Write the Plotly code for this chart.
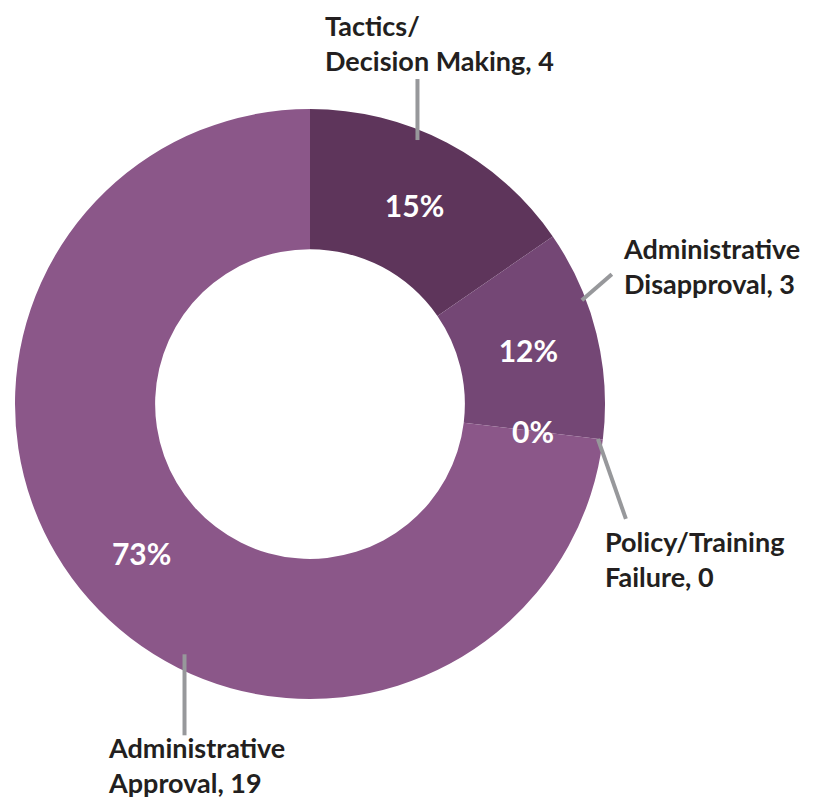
import math
import plotly.graph_objects as go

labels = ["Tactics/<br>Decision Making", "Administrative<br>Disapproval",
          "Policy/Training<br>Failure", "Administrative<br>Approval"]
values = [4, 3, 0, 19]
colors = ["#5e355b", "#744775", "#8b5789", "#8b5789"]

W, H = 827, 801
CX, CY, R = 310, 404, 295     # donut centre / radius in pixels

def paper(px, py):
    return px / W, 1 - py / H

def polar(angle, r):
    a = math.radians(angle)
    return CX + r * math.sin(a), CY - r * math.cos(a)

x0d, y1d = paper(CX - R, CY - R)
x1d, y0d = paper(CX + R, CY + R)

fig = go.Figure()
fig.add_trace(go.Pie(
    labels=labels, values=values, sort=False, direction="clockwise",
    hole=0.525, marker=dict(colors=colors, line=dict(width=0)),
    texttemplate="<b>%{percent:.0%}</b>", textposition="inside",
    insidetextorientation="horizontal",
    insidetextfont=dict(family="Lato", size=30, color="white"),
    showlegend=False, hoverinfo="label+value+percent",
    domain=dict(x=[x0d, x1d], y=[y0d, y1d]),
))

total = sum(values)
starts = []
acc = 0
for v in values:
    starts.append(acc)
    acc += v / total * 360

# leader lines: (slice, fraction along slice, radius, end offset), label box (left, centre y)
leaders = [
    (0, 0.40, 285, (0, -61), (323, 43)),
    (1, 0.33, 291, (30, -26), (621, 266)),
    (2, 0.0, 290, (28, 80), (603, 559)),
    (3, 0.417, 280, (0, 81), (106, 765)),
]

for i, frac, r, (dx, dy), (lx, ly) in leaders:
    width = values[i] / total * 360
    x0, y0 = polar(starts[i] + frac * width, r)
    ax, ay = paper(x0, y0)
    bx, by = paper(x0 + dx, y0 + dy)
    fig.add_shape(type="line", xref="paper", yref="paper", x0=ax, y0=ay, x1=bx, y1=by,
                  line=dict(color="#97989b", width=4))
    tx, ty = paper(lx, ly)
    fig.add_annotation(text="<b>%s, %d</b>" % (labels[i], values[i]), x=tx, y=ty,
                       xref="paper", yref="paper", xanchor="left", yanchor="middle",
                       align="left", showarrow=False,
                       font=dict(family="Lato", size=27, color="#231f20"))

# plotly draws no text for empty slices, so the 0% label is added by hand
for i, v in enumerate(values):
    if v == 0:
        zx, zy = paper(*polar(starts[i], 0.76 * R))
        fig.add_annotation(text="<b>0%</b>", x=zx, y=zy, xref="paper", yref="paper",
                           showarrow=False,
                           font=dict(family="Lato", size=30, color="white"))

fig.update_layout(width=W, height=H, margin=dict(l=0, r=0, t=0, b=0),
                  paper_bgcolor="white", plot_bgcolor="white")
fig.write_html("out.html", config={"displayModeBar": False},
               post_script="document.body.style.margin='0px';")
